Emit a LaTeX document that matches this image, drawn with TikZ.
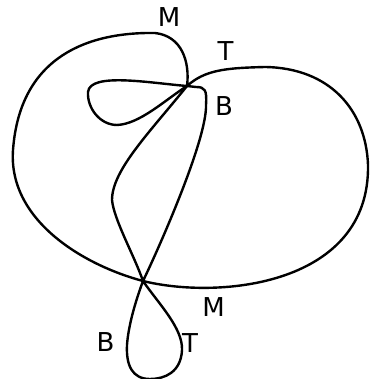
\documentclass[tikz,border=0pt]{standalone}
\usepackage{fontspec}
\setmainfont{DejaVu Sans}
\tikzset{
    strand/.style={line width=2.4pt, line cap=round, line join=round},
    lbl/.style={font=\fontsize{26}{26}\selectfont, inner sep=0pt}
}

\begin{document}
\begin{tikzpicture}[x=1pt, y=-1pt]
    \useasboundingbox (0,0) rectangle (369,379);

    % crossing points
    \coordinate (P) at (187,86);
    \coordinate (Q) at (143,281);

    % big outer curve
    \draw[strand] (P) .. controls (190,62) and (182,36) .. (155,33)
        .. controls (90,32) and (20,55) .. (13,150)
        .. controls (8,220) and (83,265) .. (Q)
        .. controls (220,300) and (370,285) .. (368,165)
        .. controls (366,110) and (330,68) .. (265,67)
        .. controls (225,68) and (205,70) .. (P);

    % small loop on the left
    \draw[strand] (P) .. controls (150,83) and (90,72) .. (88,92)
        .. controls (87,108) and (100,125) .. (117,125)
        .. controls (140,124) and (165,100) .. (P);

    % inner strand with the lower loop
    \draw[strand] (P) .. controls (150,132) and (112,170) .. (112,200)
        .. controls (114,220) and (134,255) .. (Q)
        .. controls (158,303) and (183,328) .. (182,350)
        .. controls (181,372) and (165,379) .. (150,379)
        .. controls (132,379) and (126,365) .. (127,345)
        .. controls (128,330) and (133,308) .. (Q)
        .. controls (158,250) and (207,140) .. (206,105)
        .. controls (207,90) and (205,87) .. (196,87) -- (P);

    % labels
    \node[lbl] (mtop) at (169,17) {M};
    \node[lbl] (ttop) at (225.5,51) {T};
    \node[lbl] (btop) at (224,106) {B};
    \node[lbl] (mbot) at (213.5,307) {M};
    \node[lbl] (bbot) at (105.5,342.5) {B};
    \node[lbl] (tbot) at (190,343) {T};
\end{tikzpicture}
\end{document}
